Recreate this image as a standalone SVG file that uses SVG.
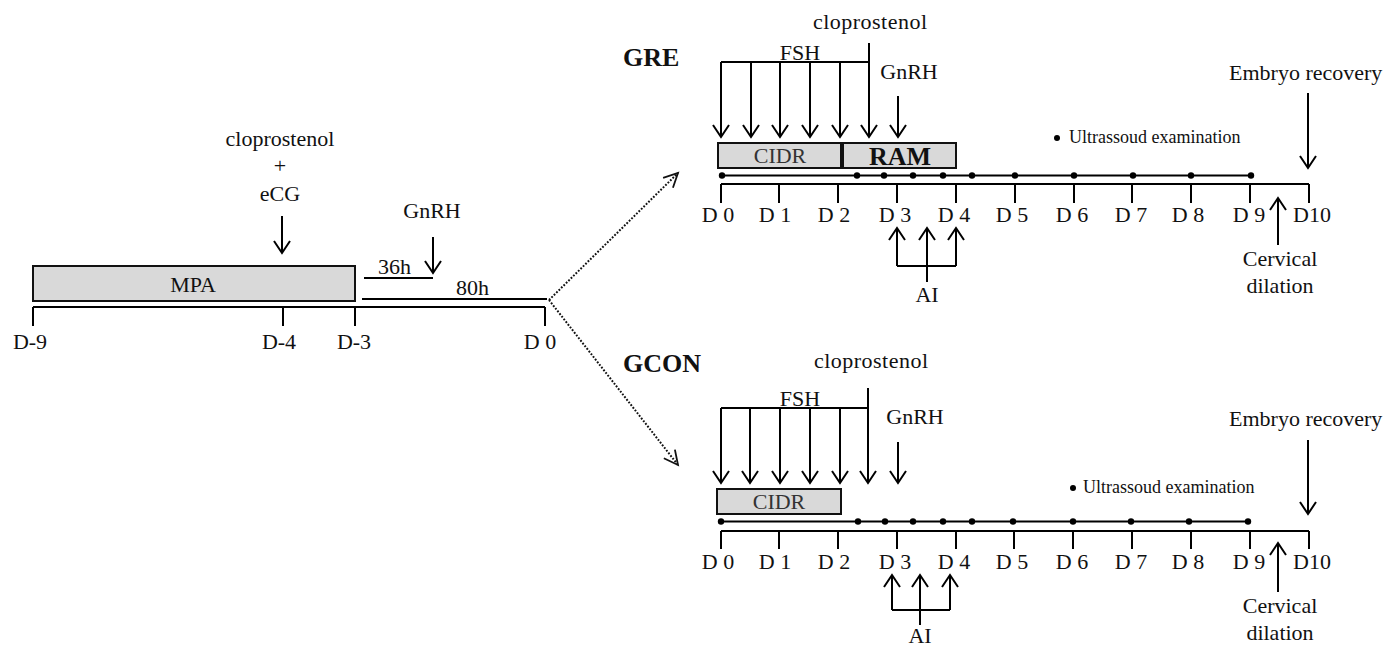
<svg xmlns="http://www.w3.org/2000/svg" width="1388" height="646" viewBox="0 0 1388 646">
<style>
  text { font-family: "Liberation Serif", "Times New Roman", serif; font-size: 22px; fill: #111; }
  .mid { text-anchor: middle; }
  .bold { font-weight: bold; font-size: 26px; }
  .small { font-size: 18px; }
  .ln { stroke: #000; stroke-width: 2; fill: none; }
  .arr { stroke: #000; stroke-width: 2; fill: none; marker-end: url(#ah); }
  .box { fill: #d9d9d9; stroke: #111; stroke-width: 2; }
  .dot { fill: #000; }
  .dotted { stroke: #111; stroke-width: 2; stroke-dasharray: 1.8 1.6; fill: none; marker-end: url(#ahd); }
</style>
<defs>
  <marker id="ah" viewBox="-14 -10 16 20" refX="0" refY="0" markerWidth="16" markerHeight="20" markerUnits="userSpaceOnUse" orient="auto" overflow="visible">
    <path d="M-12,-8 L0,0 L-12,8" fill="none" stroke="#000" stroke-width="2"/>
  </marker>
  <marker id="ahd" viewBox="-16 -10 18 20" refX="0" refY="0" markerWidth="18" markerHeight="20" markerUnits="userSpaceOnUse" orient="auto" overflow="visible">
    <path d="M-14,-7 L0,0 L-14,7" fill="none" stroke="#111" stroke-width="1.8"/>
  </marker>
</defs>
<rect width="1388" height="646" fill="#fff"/>

<!-- LEFT: pre-treatment protocol -->
<g id="pre-protocol">
  <g id="mpa">
    <rect class="box" x="33" y="266" width="322" height="35"/>
    <text class="mid" x="193" y="292">MPA</text>
  </g>
  <g id="pre-timeline">
    <path class="ln" d="M33,307 H545 M33,307 V326 M283,307 V326 M355,307 V326 M545,307 V326"/>
    <text class="mid" x="30" y="349">D-9</text>
    <text class="mid" x="279" y="349">D-4</text>
    <text class="mid" x="354" y="349">D-3</text>
    <text class="mid" x="540" y="349">D 0</text>
  </g>
  <g id="pre-clop-ecg">
    <text class="mid" x="280" y="146">cloprostenol</text>
    <text class="mid" x="280" y="173">+</text>
    <text class="mid" x="280" y="201">eCG</text>
    <line class="arr" x1="282" y1="216" x2="282" y2="253"/>
  </g>
  <g id="pre-gnrh">
    <text class="mid" x="432" y="218">GnRH</text>
    <line class="arr" x1="433" y1="237" x2="433" y2="273"/>
  </g>
  <g id="interval-36h">
    <line class="ln" x1="364" y1="278" x2="433" y2="278"/>
    <text x="378" y="274">36h</text>
  </g>
  <g id="interval-80h">
    <line class="ln" x1="362" y1="299" x2="547" y2="299"/>
    <text x="456" y="295">80h</text>
  </g>
</g>

<!-- connectors -->
<g id="connectors">
  <path class="dotted" d="M549,300 L678,173"/>
  <path class="dotted" d="M549,300 L678,465"/>
</g>

<!-- GRE -->
<g id="gre">
  <text class="bold" x="623" y="66">GRE</text>
  <g id="gre-fsh">
    <text class="mid" x="800" y="60">FSH</text>
    <path class="ln" d="M721,62 H869"/>
    <line class="arr" x1="721" y1="62" x2="721" y2="137"/>
    <line class="arr" x1="751" y1="62" x2="751" y2="137"/>
    <line class="arr" x1="780" y1="62" x2="780" y2="137"/>
    <line class="arr" x1="810" y1="62" x2="810" y2="137"/>
    <line class="arr" x1="840" y1="62" x2="840" y2="137"/>
  </g>
  <g id="gre-clop">
    <text class="mid" x="870" y="29" textLength="114" lengthAdjust="spacing">cloprostenol</text>
    <line class="arr" x1="869" y1="43" x2="869" y2="137"/>
  </g>
  <g id="gre-gnrh">
    <text class="mid" x="909" y="79">GnRH</text>
    <line class="arr" x1="898" y1="96" x2="898" y2="137"/>
  </g>
  <g id="gre-cidr">
    <rect class="box" x="718" y="143" width="123" height="25"/>
    <text class="mid" x="780" y="163" style="fill:#333">CIDR</text>
  </g>
  <g id="gre-ram">
    <rect class="box" x="843" y="143" width="113" height="25"/>
    <text class="mid bold" x="900" y="165">RAM</text>
  </g>
  <g id="gre-us">
    <line class="ln" x1="722" y1="175.5" x2="1251" y2="175.5"/>
    <circle class="dot" cx="722" cy="175.5" r="3.2"/>
    <circle class="dot" cx="857" cy="175.5" r="3.2"/>
    <circle class="dot" cx="884" cy="175.5" r="3.2"/>
    <circle class="dot" cx="913" cy="175.5" r="3.2"/>
    <circle class="dot" cx="943" cy="175.5" r="3.2"/>
    <circle class="dot" cx="972" cy="175.5" r="3.2"/>
    <circle class="dot" cx="1015" cy="175.5" r="3.2"/>
    <circle class="dot" cx="1074" cy="175.5" r="3.2"/>
    <circle class="dot" cx="1133" cy="175.5" r="3.2"/>
    <circle class="dot" cx="1191" cy="175.5" r="3.2"/>
    <circle class="dot" cx="1251" cy="175.5" r="3.2"/>
    <circle class="dot" cx="1057" cy="138" r="3"/>
    <text class="small" x="1069" y="143">Ultrassoud examination</text>
  </g>
  <g id="gre-timeline">
    <path class="ln" d="M721,184 H1309 M721,184 V203 M779,184 V203 M838,184 V203 M897,184 V203 M956,184 V203 M1015,184 V203 M1074,184 V203 M1132,184 V203 M1191,184 V203 M1250,184 V203 M1309,184 V203"/>
    <text class="mid" x="718" y="222">D 0</text>
    <text class="mid" x="775" y="222">D 1</text>
    <text class="mid" x="834" y="222">D 2</text>
    <text class="mid" x="895" y="222">D 3</text>
    <text class="mid" x="954" y="222">D 4</text>
    <text class="mid" x="1012" y="222">D 5</text>
    <text class="mid" x="1072" y="222">D 6</text>
    <text class="mid" x="1131" y="222">D 7</text>
    <text class="mid" x="1188" y="222">D 8</text>
    <text class="mid" x="1249" y="222">D 9</text>
    <text class="mid" x="1312" y="222">D10</text>
  </g>
  <g id="gre-ai">
    <path class="ln" d="M897,266 H956"/>
    <line class="arr" x1="897" y1="266" x2="897" y2="228"/>
    <line class="arr" x1="927" y1="282" x2="927" y2="228"/>
    <line class="arr" x1="956" y1="266" x2="956" y2="228"/>
    <text class="mid" x="927" y="302">AI</text>
  </g>
  <g id="gre-embryo">
    <text x="1229" y="80">Embryo recovery</text>
    <line class="arr" x1="1308" y1="93" x2="1308" y2="168"/>
  </g>
  <g id="gre-cervical">
    <line class="arr" x1="1278" y1="245" x2="1278" y2="198"/>
    <text class="mid" x="1280" y="266">Cervical</text>
    <text class="mid" x="1280" y="293">dilation</text>
  </g>
</g>

<!-- GCON -->
<g id="gcon">
  <text class="bold" x="623" y="372">GCON</text>
  <g id="gcon-fsh">
    <text class="mid" x="800" y="406">FSH</text>
    <path class="ln" d="M721,408 H868"/>
    <line class="arr" x1="721" y1="408" x2="721" y2="483"/>
    <line class="arr" x1="750" y1="408" x2="750" y2="483"/>
    <line class="arr" x1="780" y1="408" x2="780" y2="483"/>
    <line class="arr" x1="810" y1="408" x2="810" y2="483"/>
    <line class="arr" x1="840" y1="408" x2="840" y2="483"/>
  </g>
  <g id="gcon-clop">
    <text class="mid" x="871" y="368" textLength="114" lengthAdjust="spacing">cloprostenol</text>
    <line class="arr" x1="868" y1="388" x2="868" y2="483"/>
  </g>
  <g id="gcon-gnrh">
    <text class="mid" x="915" y="424">GnRH</text>
    <line class="arr" x1="898" y1="442" x2="898" y2="483"/>
  </g>
  <g id="gcon-cidr">
    <rect class="box" x="717" y="489" width="124" height="25"/>
    <text class="mid" x="779" y="509" style="fill:#333">CIDR</text>
  </g>
  <g id="gcon-us">
    <line class="ln" x1="721" y1="521.5" x2="1248" y2="521.5"/>
    <circle class="dot" cx="721" cy="521.5" r="3.2"/>
    <circle class="dot" cx="858" cy="521.5" r="3.2"/>
    <circle class="dot" cx="885" cy="521.5" r="3.2"/>
    <circle class="dot" cx="913" cy="521.5" r="3.2"/>
    <circle class="dot" cx="943" cy="521.5" r="3.2"/>
    <circle class="dot" cx="972" cy="521.5" r="3.2"/>
    <circle class="dot" cx="1013" cy="521.5" r="3.2"/>
    <circle class="dot" cx="1073" cy="521.5" r="3.2"/>
    <circle class="dot" cx="1131" cy="521.5" r="3.2"/>
    <circle class="dot" cx="1189" cy="521.5" r="3.2"/>
    <circle class="dot" cx="1248" cy="521.5" r="3.2"/>
    <circle class="dot" cx="1073" cy="488" r="3"/>
    <text class="small" x="1083" y="493">Ultrassoud examination</text>
  </g>
  <g id="gcon-timeline">
    <path class="ln" d="M721,531 H1309 M721,531 V549 M779,531 V549 M838,531 V549 M897,531 V549 M956,531 V549 M1014,531 V549 M1073,531 V549 M1132,531 V549 M1191,531 V549 M1250,531 V549 M1309,531 V549"/>
    <text class="mid" x="718" y="569">D 0</text>
    <text class="mid" x="775" y="569">D 1</text>
    <text class="mid" x="834" y="569">D 2</text>
    <text class="mid" x="895" y="569">D 3</text>
    <text class="mid" x="954" y="569">D 4</text>
    <text class="mid" x="1012" y="569">D 5</text>
    <text class="mid" x="1072" y="569">D 6</text>
    <text class="mid" x="1131" y="569">D 7</text>
    <text class="mid" x="1188" y="569">D 8</text>
    <text class="mid" x="1249" y="569">D 9</text>
    <text class="mid" x="1312" y="569">D10</text>
  </g>
  <g id="gcon-ai">
    <path class="ln" d="M892,610 H950"/>
    <line class="arr" x1="892" y1="610" x2="892" y2="575"/>
    <line class="arr" x1="920" y1="625" x2="920" y2="575"/>
    <line class="arr" x1="950" y1="610" x2="950" y2="575"/>
    <text class="mid" x="920" y="643">AI</text>
  </g>
  <g id="gcon-embryo">
    <text x="1229" y="426">Embryo recovery</text>
    <line class="arr" x1="1308" y1="440" x2="1308" y2="514"/>
  </g>
  <g id="gcon-cervical">
    <line class="arr" x1="1278" y1="592" x2="1278" y2="543"/>
    <text class="mid" x="1280" y="613">Cervical</text>
    <text class="mid" x="1280" y="640">dilation</text>
  </g>
</g>
</svg>
